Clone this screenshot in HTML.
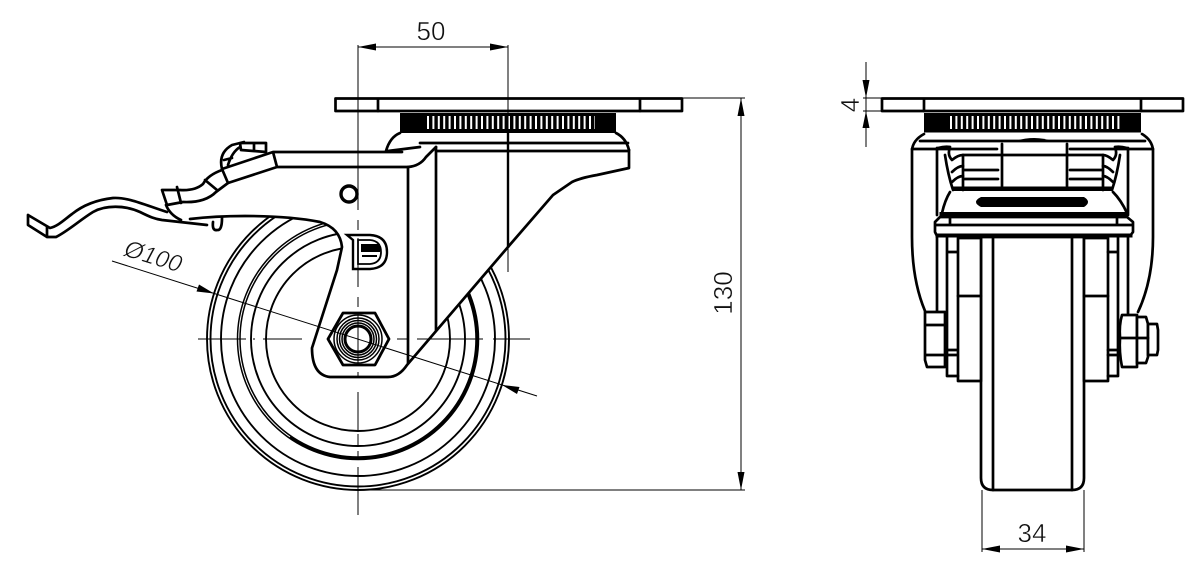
<!DOCTYPE html>
<html><head><meta charset="utf-8"><style>
html,body{margin:0;padding:0;background:#fff}svg{display:block}
text{font-family:"Liberation Sans",sans-serif;font-size:26px;fill:#111;stroke:#fff;stroke-width:.5px}
.m{fill:none;stroke:#000;stroke-width:2.7;stroke-linejoin:round;stroke-linecap:round}
.t{fill:none;stroke:#000;stroke-width:1}
.w{fill:#fff;stroke:#000;stroke-width:2.7;stroke-linejoin:round}
</style></head><body>
<svg width="1202" height="585" viewBox="0 0 1202 585" xmlns="http://www.w3.org/2000/svg">
<rect width="1202" height="585" fill="#fff"/>
<!-- wheel left -->
<g fill="none" stroke="#000" stroke-width="1.900">
<circle cx="358" cy="339" r="151"/><circle cx="358" cy="339" r="147.500"/><circle cx="358" cy="339" r="137"/>
<circle cx="358" cy="339" r="120.500" stroke-width="1.500"/><circle cx="358" cy="339" r="118" stroke-width="1.500"/>
<path d="M290 437A119 119 0 0 0 467 291" stroke-width="2.600"/>
<circle cx="358" cy="339" r="107"/><circle cx="358" cy="339" r="92"/>
</g>
<!-- fork hull -->
<path fill="#fff" d="M150 150H629V168L597 175Q580 178 572 182L553 195L508 247L407 365Q399 377 388 377H330Q312 375 312 348L337 270L342 247Q340 228 320 222Q290 216 245 216Q215 216 190 219L150 215Z"/>
<path class="m" d="M629 150V168L597 175Q580 178 572 182L553 195L508 247L407 365Q399 377 388 377H330Q312 375 312 348L337 270L342 247Q340 228 320 222Q290 216 245 216Q215 216 190 219"/>
<path class="m" d="M408 167V363M436 147V330"/>
<!-- top plate left -->
<rect class="w" x="335.500" y="98.500" width="346.500" height="12.500"/>
<path class="m" d="M378 99V111M640 99V111"/>
<rect x="400" y="113" width="216" height="20" fill="#000"/>
<line x1="427" x2="595" y1="122.500" y2="122.500" stroke="#fff" stroke-width="13" stroke-dasharray="2 3.400"/>
<path class="m" d="M400 133Q390 137 386 151M616 133Q626 138 629 150M420 143H628M436 151H628M388 151L420 147"/>
<path class="m" d="M402 152H273L222 169L228 183L277 167H408Q420 166 426 157L436 147M273 152L277 167"/>
<path class="m" d="M222 169Q218 153 232 145L244 142M228 165Q232 152 240 147M240 143H266V152L241 150ZM254 143V151M224 160L232 158"/>
<path class="m" d="M222 170Q208 175 203 184Q195 191 180 190L162 190L167 205L183 202Q205 203 216 192Q224 186 228 183M205 180L217 190M177 187L181 203M166 205Q170 215 181 220"/>
<path class="m" d="M28 215V225L47 237H56C68 231 80 220 93 212C105 205 125 205 140 212C150 217 155 219 162 220L180 222L207 225M28 215L50 228C58 226 64 220 72 214C82 206 95 200 113 198C128 197 145 205 167 212M47 237V227"/>
<path class="m" d="M213 222Q212 231 217 230Q222 231 222 218"/>
<circle cx="349" cy="194" r="8" fill="#fff" stroke="#000" stroke-width="3.400"/>
<!-- logo -->
<path d="M347 235H370Q387 236 387 252Q387 268 370 269H353V240Z" fill="#fff" stroke="#000" stroke-width="2.400"/>
<path d="M358 240V264H370Q381 263 381 252Q381 241 370 240Z" fill="none" stroke="#000" stroke-width="1.800"/>
<path d="M362 245H379V251H362ZM362 256H377" fill="#000" stroke="#000" stroke-width="2"/>
<!-- nut -->
<path d="M328 339L343 313H375L389 339L375 365H343Z" fill="#fff" stroke="#000" stroke-width="2.800" stroke-linejoin="round"/>
<g fill="none" stroke="#000" stroke-width="1.500">
<circle cx="358" cy="339" r="24"/><circle cx="358" cy="339" r="21"/><circle cx="358" cy="339" r="18.500"/><circle cx="358" cy="339" r="16"/>
<circle cx="358" cy="339" r="13" stroke-width="3"/></g>
<!-- centre lines -->
<path class="t" d="M358 45V210M358 220V230M358 238V287M358 297V307M358 314V365M358 372V378M358 392V430M358 434V447M358 451V458M358 467V515"/>
<path class="t" d="M198 339H246M253 339H255M263 339H302M397 339H407M417 339H483M493 339H530"/>
<path class="t" d="M508 45V272"/><path d="M508 133V248" stroke="#000" stroke-width="2.400"/>
<!-- dims left -->
<path class="t" d="M358 47H508M682 98H745M358 490H745M741 98V490M112 261L537 396"/>
<path d="M358 47L376 43.500V50.500ZM508 47L490 43.500V50.500ZM741 98L737.500 116H744.500ZM741 490L737.500 472H744.500ZM214 293.500L196.500 291.500L199 284.500ZM502 385L519.500 387L517 394Z" fill="#000"/>
<text x="431" y="40" text-anchor="middle">50</text>
<text transform="translate(732 293) rotate(-90)" text-anchor="middle">130</text>
<text transform="translate(151 264) rotate(17)" text-anchor="middle" font-style="italic" style="font-size:24px">Ø100</text>
<!-- RIGHT VIEW -->
<path class="m" d="M912 150V237Q912 280 925 311M912 150Q913 140 924 134M1153 150V237Q1153 280 1138 312M1153 150Q1152 140 1142 134"/>
<path class="w" d="M981 237H1084V478Q1084 490 1072 490H993Q981 490 981 478Z"/>
<path class="m" d="M993 237V490M1072 237V490"/>
<rect class="w" x="958" y="238" width="23" height="143"/><rect class="w" x="1084" y="238" width="24" height="143"/>
<path class="m" d="M958 296H981M1084 296H1108M937 237V312M947 237V376H958M947 252H957M947 350H957M947 355H957M1118 237V376H1108M1108 252H1118M1108 350H1118M1108 355H1118M1128 237V315"/>
<!-- nuts -->
<path class="w" d="M925 312H945V367H927L925 360Z"/><path class="m" d="M926 325H945M926 355H945"/>
<path class="w" d="M1122 315H1137V367H1122Q1119 352 1120 338Q1119 325 1122 315Z"/><path class="m" d="M1120 338H1137"/>
<path class="w" d="M1137 317H1146L1148 324V357L1146 363H1137Z"/><path class="w" d="M1148 324H1157L1158 330V350L1157 355H1148Z"/>
<path class="m" d="M1137 338H1148"/>
<!-- top right -->
<rect class="w" x="882" y="98.500" width="301" height="12.500"/>
<path class="m" d="M924 99V111M1141 99V111"/>
<rect x="924" y="113" width="217" height="19.500" fill="#000"/>
<line x1="950" x2="1120" y1="122.500" y2="122.500" stroke="#fff" stroke-width="13" stroke-dasharray="2 3.400"/>
<path class="m" d="M920 141H1145M912 149H997M1070 149H1153"/>
<path d="M1015 141Q1035 135 1052 141Z" fill="#000"/>
<path class="m" d="M937 148V215M1128 148V215M963 155V190M1103 155V190M963 155H1002M1067 155H1103M963 170H998M1070 170H1103M963 179H998M1070 179H1103M1002 144V186M1067 144V186M1002 155H1067"/>
<path class="m" d="M938 148Q945 146 950 147Q947 155 952 160Q958 155 963 155M1127 148Q1120 146 1115 147Q1118 155 1113 160Q1107 155 1103 155M945 155Q948 175 953 190M1120 155Q1117 175 1112 190M952 172Q958 166 963 166M952 182Q958 176 963 176M1113 172Q1107 166 1103 166M1113 182Q1107 176 1103 176"/>
<path d="M953 186.500H1112V191H953Z" fill="#000"/>
<path class="m" d="M950 192Q945 200 942 213M1113 192Q1121 200 1127 213"/>
<path d="M981 197H1084Q1092 202 1084 207H981Q971 202 981 197Z" fill="#000"/>
<path d="M940 212.500H1127V215.500H940Z" fill="#000" stroke="#000" stroke-width="1"/>
<path class="w" d="M940 217H1127L1133 222V232L1130 236H937L935 232V222Z"/>
<path d="M936 234H1132V237H936Z" fill="#000" stroke="#000" stroke-width="1"/>
<path class="m" d="M936 225H1132M950 217V225M1117 217V225"/>
<!-- right dims -->
<path class="t" d="M866 62V147M863 98H881M863 111H881M982 490V552M1084 490V552M982 549H1084"/>
<path d="M866 98L862.500 80H869.500ZM866 111L862.500 128H869.500ZM982 549L1000 545.500V552.500ZM1084 549L1066 545.500V552.500Z" fill="#000"/>
<text transform="translate(859 105) rotate(-90)" text-anchor="middle">4</text>
<text x="1032" y="542" text-anchor="middle">34</text>
</svg>
</body></html>
